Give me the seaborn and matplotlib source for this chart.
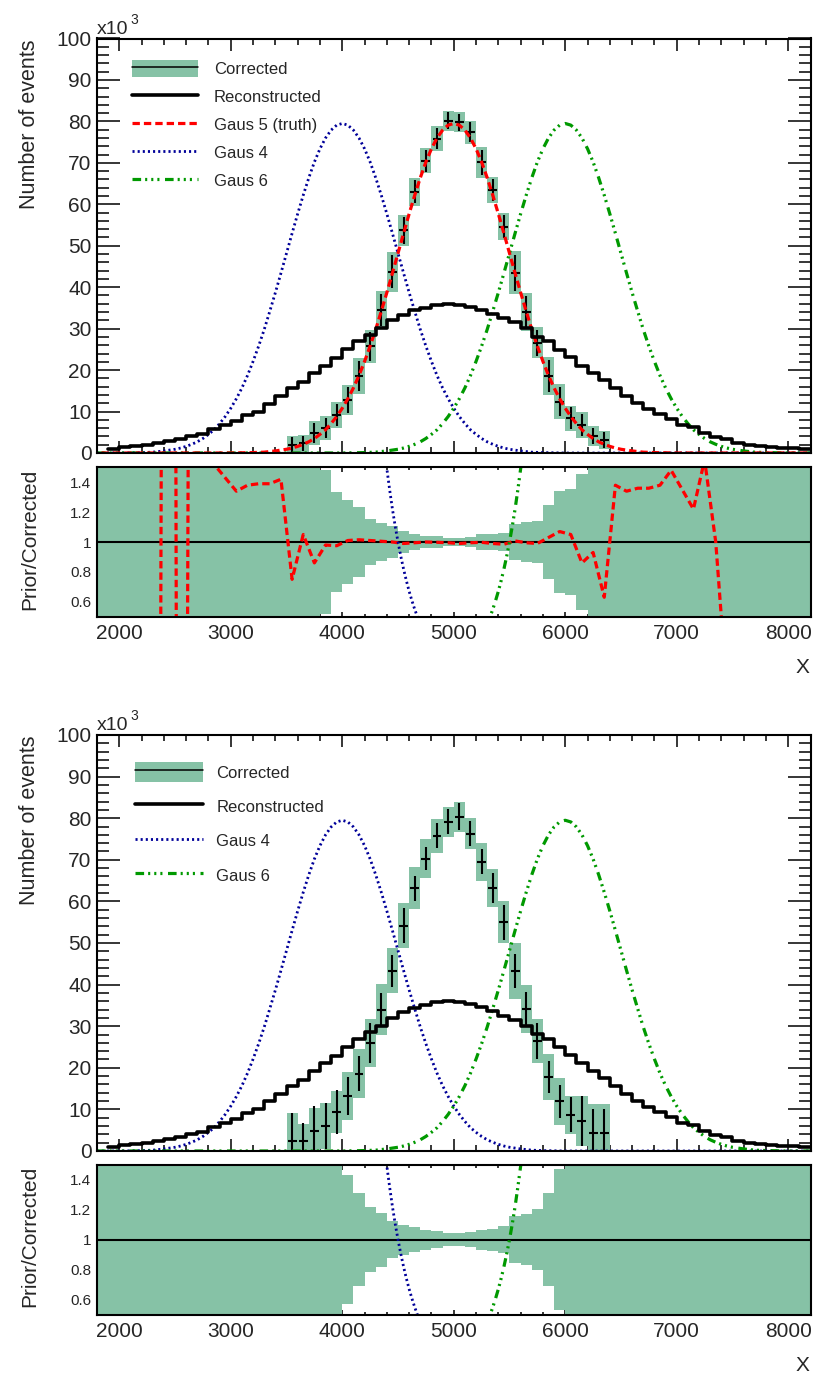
import numpy as np
import pandas as pd
import matplotlib
matplotlib.use("Agg")
import matplotlib.pyplot as plt
from matplotlib.patches import Patch
from matplotlib.lines import Line2D
from matplotlib.ticker import MultipleLocator, FuncFormatter
import seaborn as sns

# ---------------- data (event counts in units of 10^3) ----------------
# Reconstructed histogram, 100-wide bins starting at 1900
reco_first_edge = 1900
reco_counts = [0.9, 1.5, 1.6, 1.85, 2.3, 2.8, 3.4, 4.1, 4.6, 5.7,
               6.8, 7.7, 9.2, 10.0, 11.9, 13.8, 15.7, 17.1, 19.3, 21.1,
               22.8, 25.1, 26.9, 28.5, 30.1, 32.0, 33.3, 34.4, 35.1, 35.7,
               36.0, 35.8, 35.3, 34.5, 33.6, 32.5, 31.5, 30.1, 28.1, 26.9,
               24.9, 23.1, 21.1, 19.2, 17.5, 15.7, 13.8, 12.0, 10.5, 9.4,
               8.2, 6.8, 6.2, 4.9, 3.8, 3.3, 2.5, 1.9, 1.7, 1.4,
               1.1, 1.1, 1.0]

# Corrected (unfolded) distribution, bin centres 3550 ... 6350
corr_centers = [3550, 3650, 3750, 3850, 3950, 4050, 4150, 4250, 4350, 4450,
                4550, 4650, 4750, 4850, 4950, 5050, 5150, 5250, 5350, 5450,
                5550, 5650, 5750, 5850, 5950, 6050, 6150, 6250, 6350]

top_corrected = [2.0, 2.3, 4.8, 6.0, 9.2, 12.8, 18.5, 25.7, 34.5, 43.7,
                 53.7, 63.0, 70.5, 75.8, 80.2, 79.8, 77.4, 70.1, 63.5, 54.6,
                 43.5, 34.0, 26.6, 18.5, 12.4, 8.4, 6.8, 4.1, 3.1]
top_total_err = [2.0, 2.0, 2.9, 2.9, 3.1, 3.6, 4.3, 4.0, 4.5, 4.8,
                 3.8, 3.3, 3.0, 3.0, 2.4, 2.4, 2.8, 3.7, 3.2, 3.3,
                 5.2, 4.6, 3.7, 4.6, 4.2, 3.0, 3.1, 2.3, 2.2]
top_stat_err = [1.8, 1.8, 2.5, 2.5, 2.7, 3.1, 3.6, 3.4, 3.8, 4.0,
                3.2, 2.8, 2.6, 2.5, 2.1, 2.1, 2.4, 3.1, 2.7, 2.8,
                4.3, 3.9, 3.1, 3.9, 3.5, 2.6, 2.6, 2.0, 1.9]

bottom_corrected = [2.4, 2.4, 4.8, 6.0, 9.4, 13.2, 18.6, 26.0, 34.0, 43.3,
                    54.1, 63.2, 70.3, 75.8, 79.1, 80.4, 76.3, 69.5, 63.3, 55.0,
                    43.3, 34.2, 26.4, 17.8, 11.9, 8.7, 7.2, 4.4, 4.4]
bottom_total_err = [6.7, 4.0, 5.6, 5.6, 5.1, 5.7, 5.8, 5.7, 6.1, 5.4,
                    5.4, 5.1, 4.7, 4.1, 3.6, 3.6, 3.8, 4.6, 4.6, 5.0,
                    6.8, 5.8, 5.3, 5.5, 5.6, 4.6, 6.1, 6.9, 6.9]
bottom_stat_err = [6.7, 4.3, 5.9, 5.5, 5.2, 4.6, 4.2, 4.8, 3.9, 3.8,
                   4.2, 3.0, 2.8, 3.0, 3.0, 3.2, 3.0, 3.0, 3.6, 4.2,
                   4.0, 4.0, 4.4, 3.8, 4.0, 4.2, 6.0, 5.6, 5.6]

# Gaussian prior shape: value at a distance from the peak (one side)
gaus_offsets = [0, 50, 100, 150, 200, 250, 300, 350, 400, 450,
                500, 550, 600, 650, 700, 750, 800, 850, 900, 950,
                1000, 1050, 1100, 1150, 1200, 1250, 1300, 1350, 1400, 1450,
                1500, 1600, 1700, 1800, 2000, 4200]
gaus_profile = [79.5, 79.1, 77.9, 76.0, 73.4, 70.2, 66.4, 62.2, 57.7, 53.0,
                48.2, 43.4, 38.7, 34.2, 29.8, 25.8, 22.1, 18.7, 15.7, 13.1,
                10.8, 8.8, 7.1, 5.6, 4.5, 3.5, 2.7, 2.1, 1.6, 1.2,
                0.9, 0.5, 0.2, 0.1, 0.0, 0.0]
gaus_means = {"Gaus 4": 4000, "Gaus 5 (truth)": 5000, "Gaus 6": 6000}

# Prior / Corrected ratios
truth_ratio_x = [2250, 2350, 2450, 2550, 2650, 2750, 2850, 2950, 3050, 3150,
                 3250, 3350, 3450, 3550, 3650, 3750, 3850, 3950, 4050, 4150,
                 4250, 4350, 4450, 4550, 4650, 4750, 4850, 4950, 5050, 5150,
                 5250, 5350, 5450, 5550, 5650, 5750, 5850, 5950, 6050, 6150,
                 6250, 6350, 6450, 6550, 6650, 6750, 6850, 6950, 7050, 7150,
                 7250, 7350, 7450, 7550]
truth_ratio = [0.0, -5.0, 20.0, -12.0, 8.0, 1.55, 1.52, 1.43, 1.34, 1.38,
               1.39, 1.39, 1.42, 0.75, 1.05, 0.86, 0.98, 0.975, 1.01, 1.015,
               1.01, 1.005, 1.0, 0.99, 0.995, 1.0, 0.998, 0.995, 0.99, 0.995,
               0.998, 0.99, 0.985, 1.007, 0.995, 0.99, 1.03, 1.07, 1.05, 0.86,
               0.93, 0.63, 1.38, 1.34, 1.36, 1.36, 1.38, 1.48, 1.35, 1.22,
               1.55, 1.0, 0.0, 0.0]
gaus4_ratio_x = [4350, 4375, 4400, 4425, 4450, 4475, 4500, 4525, 4550, 4575,
                 4600, 4625, 4650, 4675, 4700, 4725]
gaus4_ratio = [1.82, 1.65, 1.49, 1.35, 1.22, 1.105, 1.0, 0.905, 0.819, 0.741,
               0.670, 0.607, 0.549, 0.497, 0.449, 0.407]
gaus6_ratio_x = [5275, 5300, 5325, 5350, 5375, 5400, 5425, 5450, 5475, 5500,
                 5525, 5550, 5575, 5600, 5625, 5650]
gaus6_ratio = [0.407, 0.449, 0.497, 0.549, 0.607, 0.670, 0.741, 0.819, 0.905, 1.0,
               1.105, 1.22, 1.35, 1.49, 1.65, 1.82]

x_range = (1800, 8200)
bin_width = 100

# ---------------- style ----------------
sns.set_theme(style="ticks")
plt.rcParams["font.family"] = ["Liberation Sans", "DejaVu Sans"]
plt.rcParams["lines.scale_dashes"] = False
plt.rcParams["axes.linewidth"] = 1.5

BAND = "#86c2a6"
RED = "#ff0000"
BLUE = "#000099"
GREEN = "#009900"
STY = {
    "Gaus 5 (truth)": dict(color=RED, lw=2.3, ls=(0, (5.3, 2.9))),
    "Gaus 4": dict(color=BLUE, lw=2.0, ls=(0, (1.5, 2.2))),
    "Gaus 6": dict(color=GREEN, lw=2.3, ls=(0, (6.2, 2.9, 1.5, 2.9, 1.5, 2.9, 1.5, 4.0))),
}

W, H = 816, 1376
fig = plt.figure(figsize=(W / 100, H / 100), dpi=100)


def frac(x0, y_top, x1, y_bot):
    return [x0 / W, 1 - y_bot / H, (x1 - x0) / W, (y_bot - y_top) / H]


def curve(ax, x, y, name):
    s = STY[name]
    sns.lineplot(x=list(x), y=list(y), ax=ax, color=s["color"], linewidth=s["lw"],
                 linestyle=s["ls"], estimator=None, errorbar=None, legend=False,
                 sort=False)


def style_axes(ax, ratio):
    ax.set_xlim(*x_range)
    ax.xaxis.set_major_locator(MultipleLocator(1000))
    ax.xaxis.set_minor_locator(MultipleLocator(200))
    if ratio:
        ax.set_ylim(0.5, 1.5)
        ax.yaxis.set_major_locator(MultipleLocator(0.2))
        ax.yaxis.set_minor_locator(MultipleLocator(0.05))
        xl, xm, yl, ym = 3.4, 1.9, 13.7, 6.0
        ylab = 11
    else:
        ax.set_ylim(0, 100)
        ax.yaxis.set_major_locator(MultipleLocator(10))
        ax.yaxis.set_minor_locator(MultipleLocator(2))
        xl, xm, yl, ym = 8.6, 4.3, 16.5, 8.3
        ylab = 15
    ax.yaxis.set_major_formatter(FuncFormatter(lambda v, p: f"{v:g}"))
    ax.tick_params(which="both", direction="in", top=True, right=True,
                   width=1.1, color="black")
    ax.tick_params(axis="x", which="major", length=xl)
    ax.tick_params(axis="x", which="minor", length=xm)
    ax.tick_params(axis="y", which="major", length=yl, pad=4, labelsize=ylab)
    ax.tick_params(axis="y", which="minor", length=ym)
    ax.tick_params(axis="x", labelbottom=ratio, pad=5, labelsize=15)
    for sp in ax.spines.values():
        sp.set_visible(True)
        sp.set_color("black")
        sp.set_linewidth(1.5)
    ax.set_xlabel("")
    ax.set_ylabel("")
    ax.set_facecolor("white")


def main_panel(ax, corrected, total_err, stat_err, with_truth):
    reco_edges = reco_first_edge + bin_width * np.arange(len(reco_counts) + 1)
    reco_df = pd.DataFrame({"x": reco_edges[:-1] + bin_width / 2,
                            "n": reco_counts})
    corr = np.asarray(corrected)
    terr = np.asarray(total_err)
    # corrected: total-uncertainty boxes and statistical error crosses
    ax.bar(corr_centers, 2 * terr, bottom=corr - terr, width=bin_width,
           color=BAND, linewidth=0, zorder=1)
    ax.errorbar(corr_centers, corr, yerr=stat_err, xerr=40, fmt="none",
                ecolor="black", elinewidth=1.5, capsize=0, zorder=2)
    # reconstructed histogram
    sns.histplot(data=reco_df, x="x", weights="n", bins=list(reco_edges),
                 element="step", fill=False, color="black", linewidth=2.6,
                 ax=ax, zorder=3)
    # Gaussian priors
    offs = np.asarray(gaus_offsets, dtype=float)
    prof = np.asarray(gaus_profile)
    sym_off = np.concatenate([-offs[::-1], offs[1:]])
    sym_val = np.concatenate([prof[::-1], prof[1:]])
    names = ["Gaus 4", "Gaus 6"] + (["Gaus 5 (truth)"] if with_truth else [])
    for name in names:
        curve(ax, gaus_means[name] + sym_off, sym_val, name)
    style_axes(ax, ratio=False)


def ratio_panel(ax, corrected, total_err, with_truth):
    edges = np.arange(x_range[0], x_range[1] + 1, bin_width)
    centers = edges[:-1] + bin_width / 2
    rel = np.full(len(centers), 10.0)
    for c, v, e in zip(corr_centers, corrected, total_err):
        rel[np.argmin(np.abs(centers - c))] = e / v
    lo = np.append(1 - rel, 1 - rel[-1])
    hi = np.append(1 + rel, 1 + rel[-1])
    ax.fill_between(edges, lo, hi, step="post", color=BAND, linewidth=0, zorder=1)
    ax.axhline(1.0, color="black", lw=1.5, zorder=2)
    if with_truth:
        curve(ax, truth_ratio_x, truth_ratio, "Gaus 5 (truth)")
    curve(ax, gaus4_ratio_x, gaus4_ratio, "Gaus 4")
    curve(ax, gaus6_ratio_x, gaus6_ratio, "Gaus 6")
    style_axes(ax, ratio=True)


def legend(ax, with_truth, handleheight, labelspacing, handletextpad, anchor, hlen):
    box = (Patch(facecolor=BAND, edgecolor="none"),
           Line2D([], [], color="black", lw=1.1))
    handles = [box, Line2D([], [], color="black", lw=2.6)]
    labels = ["Corrected", "Reconstructed"]
    names = (["Gaus 5 (truth)"] if with_truth else []) + ["Gaus 4", "Gaus 6"]
    for n in names:
        s = STY[n]
        handles.append(Line2D([], [], color=s["color"], lw=s["lw"], ls=s["ls"]))
        labels.append(n)
    ax.legend(handles, labels, loc="upper left", bbox_to_anchor=anchor,
              frameon=False, fontsize=12, handlelength=hlen,
              handleheight=handleheight, handletextpad=handletextpad,
              labelspacing=labelspacing, borderpad=0, borderaxespad=0)


def decorations(main_top, ratio_top, ratio_bot):
    fig.text(97 / W, 1 - (main_top - 1) / H, "x10", fontsize=14,
             ha="left", va="bottom")
    fig.text(130 / W, 1 - (main_top - 12) / H, "3", fontsize=10,
             ha="left", va="bottom")
    fig.text(30 / W, 1 - (main_top + 1) / H, "Number of events", fontsize=15.5,
             rotation=90, ha="center", va="top")
    fig.text(30 / W, 1 - (ratio_top + 1) / H, "Prior/Corrected", fontsize=15,
             rotation=90, ha="center", va="top")
    fig.text(809 / W, 1 - (ratio_bot + 51) / H, "X", fontsize=15,
             ha="right", va="center")


# ---------------- upper figure: with truth ----------------
ax1 = fig.add_axes(frac(97, 38.5, 810.5, 453))
main_panel(ax1, top_corrected, top_total_err, top_stat_err, with_truth=True)
legend(ax1, True, 1.14, 0.66, 0.96, (0.049, 0.947), 3.96)
ax2 = fig.add_axes(frac(97, 467.3, 810.5, 616.7))
ratio_panel(ax2, top_corrected, top_total_err, with_truth=True)
decorations(38.5, 467.3, 616.7)

# ---------------- lower figure: without truth ----------------
ax3 = fig.add_axes(frac(97, 735, 810.5, 1151))
main_panel(ax3, bottom_corrected, bottom_total_err, bottom_stat_err, with_truth=False)
legend(ax3, False, 1.46, 0.86, 0.82, (0.053, 0.934), 4.08)
ax4 = fig.add_axes(frac(97, 1164.6, 810.5, 1314.6))
ratio_panel(ax4, bottom_corrected, bottom_total_err, with_truth=False)
decorations(735, 1164.6, 1314.6)

fig.savefig("out.png", dpi=100)
